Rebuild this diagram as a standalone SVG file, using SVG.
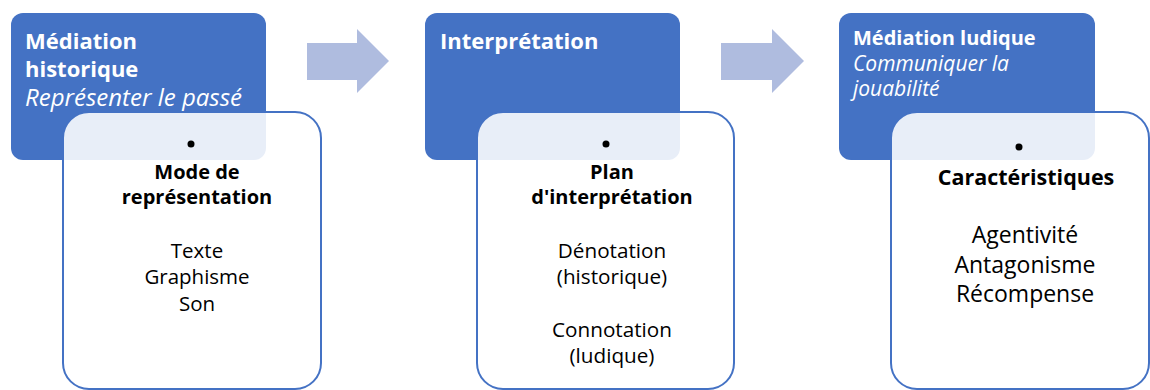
<svg xmlns="http://www.w3.org/2000/svg" width="1150" height="390" viewBox="0 0 1150 390">
<style>
.head{fill:#4472C4}
.card{fill:#ffffff;fill-opacity:0.88;stroke:#4472C4;stroke-width:2}
.arrow{fill:#AFBCDF}
text{font-family:"Open Sans","Noto Sans",sans-serif}
.ht{fill:#ffffff;font-weight:bold}
.hi{fill:#ffffff;font-style:italic}
.b{fill:#000;font-weight:bold;text-anchor:middle}
.r{fill:#000;text-anchor:middle}
</style>
<g id="connectors">
<polygon class="arrow" points="307,43 357,43 357,29 389,61 357,93 357,80 307,80"/>
<polygon class="arrow" points="721,43 772,43 772,29 804,61 772,93 772,80 721,80"/>
</g>
<g id="node1">
<rect class="head" x="11" y="13" width="255" height="147" rx="12"/>
<text class="ht" x="25" y="49" font-size="22">Médiation</text>
<text class="ht" x="25" y="77" font-size="22">historique</text>
<text class="hi" x="25" y="106" font-size="24">Représenter le passé</text>
<rect class="card" x="63" y="112" width="258" height="277" rx="26"/>
<circle cx="191" cy="144" r="3.5" fill="#000"/>
<text class="b" x="197" y="179" font-size="20">Mode de</text>
<text class="b" x="197" y="204" font-size="20">représentation</text>
<text class="r" x="197" y="258" font-size="20.5">Texte</text>
<text class="r" x="197" y="284" font-size="20.5">Graphisme</text>
<text class="r" x="197" y="311" font-size="20.5">Son</text>
</g>
<g id="node2">
<rect class="head" x="425" y="13" width="255" height="147" rx="12"/>
<text class="ht" x="440" y="49" font-size="22">Interprétation</text>
<rect class="card" x="477" y="112" width="257" height="277" rx="26"/>
<circle cx="606" cy="144" r="3.5" fill="#000"/>
<text class="b" x="612" y="179" font-size="20">Plan</text>
<text class="b" x="612" y="204" font-size="20">d'interprétation</text>
<text class="r" x="612" y="258" font-size="20.7">Dénotation</text>
<text class="r" x="612" y="284" font-size="20.7">(historique)</text>
<text class="r" x="612" y="337" font-size="20.7">Connotation</text>
<text class="r" x="612" y="363" font-size="20.7">(ludique)</text>
</g>
<g id="node3">
<rect class="head" x="839" y="13" width="256" height="147" rx="12"/>
<text class="ht" x="853" y="45" font-size="20">Médiation ludique</text>
<text class="hi" x="853" y="71" font-size="21">Communiquer la</text>
<text class="hi" x="853" y="96" font-size="21">jouabilité</text>
<rect class="card" x="891" y="112" width="258" height="277" rx="26"/>
<circle cx="1019" cy="147" r="3.5" fill="#000"/>
<text class="b" x="1026" y="185" font-size="21.5">Caractéristiques</text>
<text class="r" x="1025" y="243" font-size="23">Agentivité</text>
<text class="r" x="1025" y="273" font-size="23">Antagonisme</text>
<text class="r" x="1025" y="302" font-size="23">Récompense</text>
</g>
</svg>
